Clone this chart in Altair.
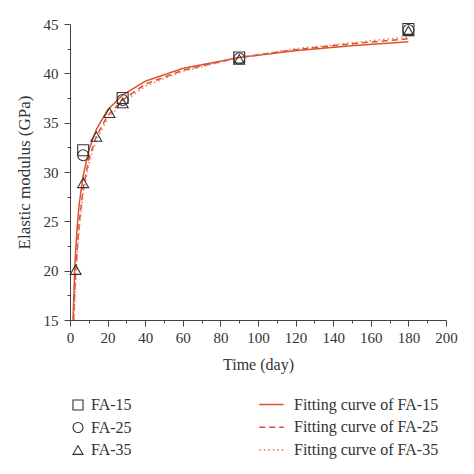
import altair as alt
import pandas as pd

# Measured points
series_names = ["FA-15", "FA-25", "FA-35"]
days_15 = [7, 28, 90, 180]
fa15 = [32.2, 37.5, 41.6, 44.5]
days_25 = [7, 28, 90, 180]
fa25 = [31.7, 37.3, 41.5, 44.4]
days_35 = [3, 7, 14, 21, 28, 90, 180]
fa35 = [20.1, 28.9, 33.6, 36.0, 37.0, 41.4, 44.3]

# Fitting curves
curve_names = ["Fitting curve of FA-15", "Fitting curve of FA-25", "Fitting curve of FA-35"]
cdays_15 = [1.6, 2, 2.5, 3, 4, 5, 7, 10, 14, 20, 28, 40, 60, 90, 120, 150, 180]
cfit_15 = [15.0, 17.2, 20.0, 22.0, 24.9, 26.9, 29.6, 32.2, 34.3, 36.3, 37.8, 39.2, 40.5, 41.6, 42.3, 42.8, 43.2]
cdays_25 = [1.9, 2.5, 3, 4, 5, 7, 10, 14, 20, 28, 40, 60, 90, 120, 150, 180]
cfit_25 = [15.0, 17.8, 19.6, 22.6, 25.0, 28.3, 31.3, 33.6, 35.7, 37.3, 38.9, 40.3, 41.6, 42.4, 43.0, 43.5]
cdays_35 = [2.1, 2.5, 3, 4, 5, 7, 10, 14, 20, 28, 40, 60, 90, 120, 150, 180]
cfit_35 = [15.0, 16.8, 18.9, 22.0, 24.5, 27.8, 30.8, 33.2, 35.4, 37.0, 38.7, 40.2, 41.6, 42.5, 43.1, 43.7]

curve_colors = ["#d5562c", "#e0463a", "#e8845a"]
curve_dashes = [[1, 0], [6, 4], [1.5, 3]]
shapes = ["square", "circle", "triangle-up"]

pts = pd.DataFrame(
    [{"day": d, "E": v, "series": "FA-15"} for d, v in zip(days_15, fa15)]
    + [{"day": d, "E": v, "series": "FA-25"} for d, v in zip(days_25, fa25)]
    + [{"day": d, "E": v, "series": "FA-35"} for d, v in zip(days_35, fa35)]
)
curves = pd.DataFrame(
    [{"day": d, "E": v, "curve": curve_names[0]} for d, v in zip(cdays_15, cfit_15)]
    + [{"day": d, "E": v, "curve": curve_names[1]} for d, v in zip(cdays_25, cfit_25)]
    + [{"day": d, "E": v, "curve": curve_names[2]} for d, v in zip(cdays_35, cfit_35)]
)

FONT = "Liberation Serif"
TXT = "#333333"
x_vals = list(range(0, 201, 10))
y_vals = [15 + 2.5 * i for i in range(13)]

common_axis = dict(
    grid=False, labelFont=FONT, titleFont=FONT, labelColor=TXT, titleColor=TXT,
    titleFontWeight="normal", domainColor="#444", tickColor="#444",
    labelFontSize=15, labelFlush=False, labelOverlap=False,
)

x_enc = alt.X(
    "day:Q",
    scale=alt.Scale(domain=[0, 200], nice=False),
    axis=alt.Axis(
        title="Time (day)", values=x_vals,
        labelExpr="datum.value % 20 === 0 ? datum.label : ''",
        tickSize={"condition": {"test": "datum.value % 20 !== 0", "value": 3}, "value": 6},
        labelPadding=4, titlePadding=11, titleFontSize=16, **common_axis,
    ),
)
y_enc = alt.Y(
    "E:Q",
    scale=alt.Scale(domain=[15, 45], nice=False, zero=False),
    axis=alt.Axis(
        title="Elastic modulus (GPa)", values=y_vals,
        labelExpr="datum.value % 5 === 0 ? datum.label : ''",
        tickSize={"condition": {"test": "datum.value % 5 !== 0", "value": 3}, "value": 6},
        labelPadding=6, titlePadding=10, titleFontSize=17, **common_axis,
    ),
)

line_legend = alt.Legend(
    title=None, orient="none", legendX=188, legendY=367, symbolType="stroke",
    symbolSize=600, symbolStrokeWidth=1.6, labelFontSize=16, labelFont=FONT,
    labelColor=TXT, rowPadding=0.7, labelLimit=400, labelOffset=9,
)
lines = alt.Chart(curves).mark_line(strokeWidth=1.5, clip=True).encode(
    x=x_enc, y=y_enc,
    color=alt.Color("curve:N", scale=alt.Scale(domain=curve_names, range=curve_colors), legend=line_legend),
    strokeDash=alt.StrokeDash("curve:N", scale=alt.Scale(domain=curve_names, range=curve_dashes), legend=line_legend),
)

points = alt.Chart(pts).mark_point(filled=False, size=120, strokeWidth=1.1, color="#333", opacity=1).encode(
    x=x_enc, y=y_enc,
    shape=alt.Shape(
        "series:N", scale=alt.Scale(domain=series_names, range=shapes),
        legend=alt.Legend(
            title=None, orient="none", legendX=0, legendY=373, symbolSize=100,
            symbolStrokeColor="#333", symbolFillColor="transparent", symbolStrokeWidth=1.1,
            labelFontSize=16, labelFont=FONT, labelColor=TXT, rowPadding=6.5, labelOffset=5,
        ),
    ),
)

chart = alt.layer(lines, points).properties(
    width=376, height=296,
    background="white",
    autosize=alt.AutoSizeParams(type="none"),
    padding={"left": 62, "top": 16, "right": 20, "bottom": 146},
).configure_view(stroke=None)

chart.save("out.html", embed_options={"renderer": "svg", "actions": False})
